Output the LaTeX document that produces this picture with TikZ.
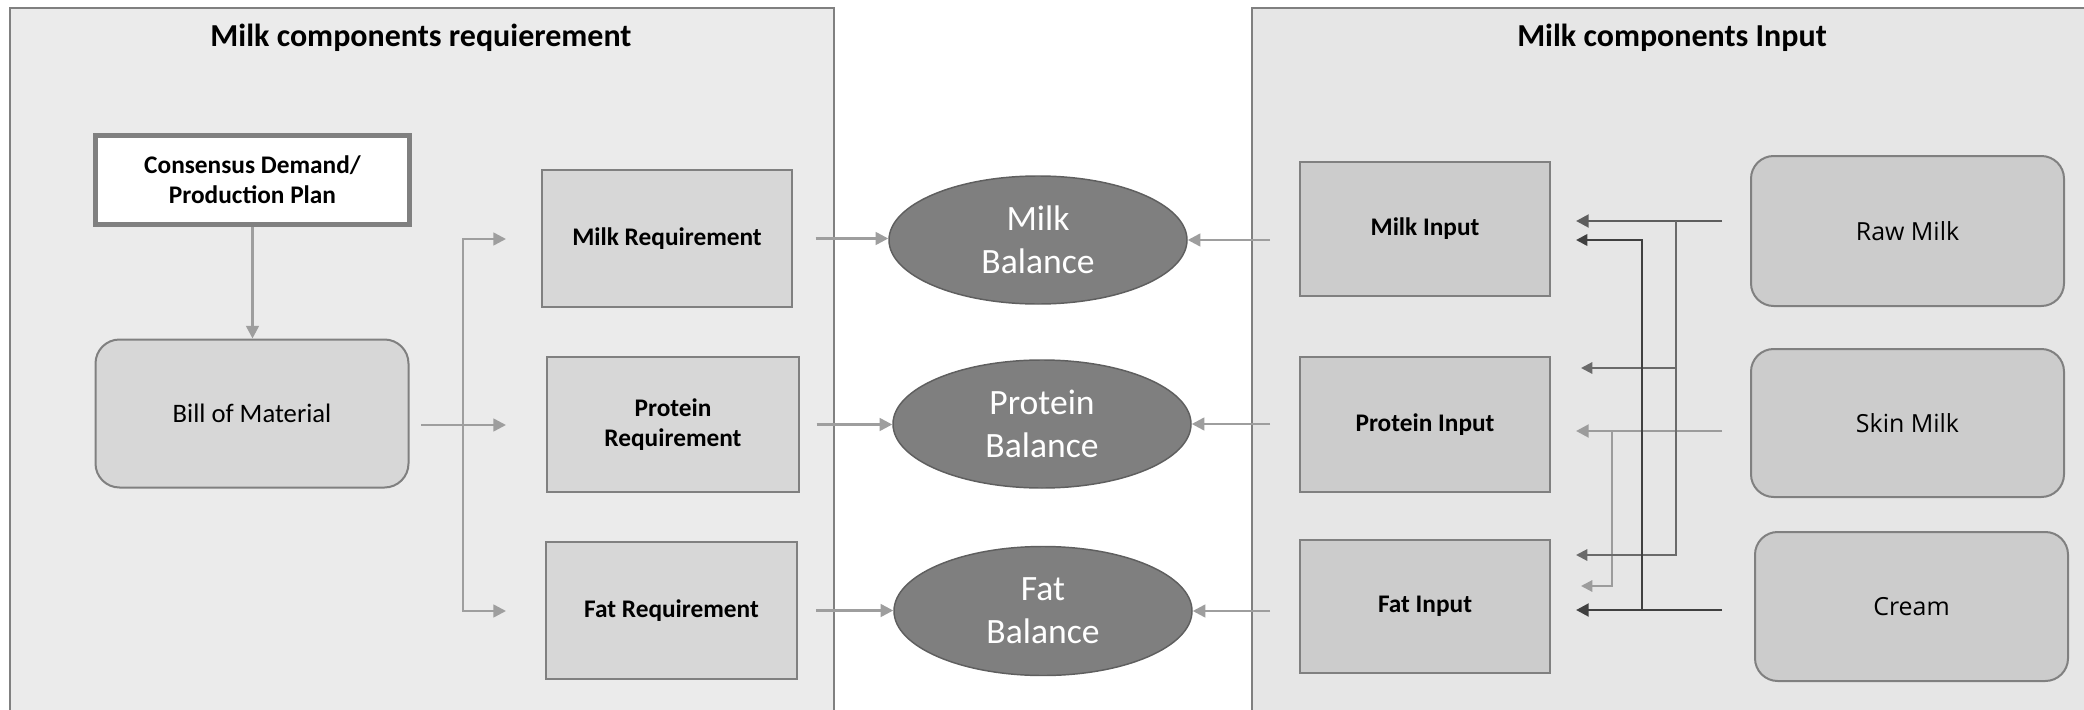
\documentclass[tikz,border=0pt]{standalone}
\usepackage{fontspec}
\setmainfont{Carlito}
\newfontfamily\osans{Open Sans}
\usetikzlibrary{arrows.meta,shapes.geometric}
\definecolor{panelL}{HTML}{EBEBEB}
\definecolor{panelR}{HTML}{E6E6E6}
\definecolor{bordgray}{HTML}{808080}
\definecolor{reqfill}{HTML}{D7D7D7}
\definecolor{infill}{HTML}{CCCCCC}
\definecolor{ellfill}{HTML}{7F7F7F}
\definecolor{elldraw}{HTML}{5F5F5F}
\definecolor{arrL}{HTML}{9E9E9E}
\definecolor{rawc}{HTML}{5E5E5E}
\definecolor{rawb}{HTML}{6A6A6A}
\definecolor{creamc}{HTML}{404040}
\definecolor{skinc}{HTML}{9C9C9C}
\tikzset{
  panel/.style={draw=bordgray, line width=1.1pt},
  ptitle/.style={font=\fontsize{24}{29}\selectfont\bfseries, inner sep=0pt, anchor=base},
  reqbox/.style={draw=bordgray, fill=reqfill, line width=1.5pt, inner sep=0pt, align=center,
    font=\fontsize{19}{22.5}\selectfont\bfseries},
  inbox/.style={reqbox, fill=infill},
  srcbox/.style={draw=bordgray, fill=infill, line width=1.5pt, inner sep=0pt, align=center,
    rounded corners=17pt, font=\osans\fontsize{18.7}{22}\selectfont},
  balance/.style={ellipse, draw=elldraw, fill=ellfill, line width=1.1pt, inner sep=0pt,
    align=center, text=white, minimum width=223.5pt, minimum height=96pt,
    font=\fontsize{26.7}{32}\selectfont},
  conn/.style={draw=arrL, line width=1.9pt},
  arr/.style={conn, -{Triangle[length=9.5pt,width=9.5pt]}},
  rarr/.style={line width=2.2pt, -{Triangle[length=9.5pt,width=9.5pt]}},
  rarrthin/.style={line width=1.6pt, -{Triangle[length=8.5pt,width=8.5pt]}},
}
\begin{document}
\begin{tikzpicture}[x=0.75pt,y=-0.75pt]
\useasboundingbox (0,0) rectangle (2084,710);
\fill[white] (0,0) rectangle (2084,710);
% panels
\draw[panel, fill=panelL] (10,8) rectangle (834,740);
\draw[panel, fill=panelR] (1252,8) rectangle (2110,740);
\node[ptitle] (titleL) at (421,47) {Milk components requierement};
\node[ptitle] (titleR) at (1672,47) {Milk components Input};

% left side
\node[draw=bordgray, fill=white, line width=3.75pt, inner sep=0pt, align=center,
  minimum width=235.5pt, minimum height=66.75pt,
  font=\fontsize{19}{22.5}\selectfont\bfseries] (cons) at (252.5,180) {Consensus Demand/\\Production Plan};
\node[draw=bordgray, fill=reqfill, line width=1.5pt, inner sep=0pt, rounded corners=18pt,
  minimum width=234.75pt, minimum height=111pt,
  font=\fontsize{20}{24}\selectfont] (bom) at (252,413.5) {Bill of Material};

\node[reqbox, minimum width=187.5pt, minimum height=102.75pt] (milkreq) at (667,238.5) {Milk Requirement};
\node[reqbox, minimum width=189pt, minimum height=101.25pt] (protreq) at (673,424.5) {Protein\\Requirement};
\node[reqbox, minimum width=188.25pt, minimum height=102.75pt] (fatreq) at (671.5,610.5) {Fat Requirement};

% balances
\node[balance] (milkbal) at (1038,240) {Milk\\Balance};
\node[balance] (protbal) at (1042,424) {Protein\\Balance};
\node[balance, minimum height=96.75pt] (fatbal) at (1043,611) {Fat\\Balance};

% inputs
\node[inbox, minimum width=187.5pt, minimum height=100.5pt] (milkin) at (1425,229) {Milk Input};
\node[inbox, minimum width=187.5pt, minimum height=101.25pt] (protin) at (1425,424.5) {Protein Input};
\node[inbox, minimum width=187.5pt, minimum height=99.75pt] (fatin) at (1425,606.5) {Fat Input};

% sources
\node[srcbox, minimum width=234.75pt, minimum height=112.5pt] (raw) at (1907.5,231) {Raw Milk};
\node[srcbox, minimum width=234.75pt, minimum height=111pt] (skin) at (1907.5,423) {Skin Milk};
\node[srcbox, minimum width=234.75pt, minimum height=111.75pt] (cream) at (1911.5,606.5) {Cream};

% left connectors
\draw[arr] (cons.south) -- (cons.south |- bom.north);
\coordinate (b0) at (421,425);
\coordinate (jt) at (463,239);
\coordinate (jb) at (463,611);
\coordinate (r1) at (506,239);
\coordinate (r2) at (506,425);
\coordinate (r3) at (506,611);
\draw[arr] (jb) -- (jt) -- (r1);
\draw[arr] (jt) -- (jb) -- (r3);
\draw[arr] (b0) -- (r2);

\draw[arr] ([xshift=17pt]milkreq.east) -- (milkreq.east -| milkbal.west);
\draw[arr] ([xshift=12.5pt]protreq.east) -- (protreq.east -| protbal.west);
\draw[arr] ([xshift=13.5pt]fatreq.east) -- (fatreq.east -| fatbal.west);

\draw[arr] ([xshift=-21.75pt]milkin.west |- milkbal.east) -- (milkbal.east);
\draw[arr] ([xshift=-21.75pt]protin.west |- protbal.east) -- (protbal.east);
\draw[arr] ([xshift=-21.75pt]fatin.west |- fatbal.east) -- (fatbal.east);

% right connectors
\coordinate (rawS) at (1722,221);
\coordinate (rawJ) at (1676,221);
\coordinate (rawJ2) at (1676,368);
\coordinate (rawJ3) at (1676,555);
\coordinate (rawT1) at (1576,221);
\coordinate (rawT2) at (1581,368);
\coordinate (rawT3) at (1576,555);

\coordinate (skinS) at (1722,431);
\coordinate (skinJ) at (1612,431);
\coordinate (skinJ2) at (1612,586);
\coordinate (skinT1) at (1576,431);
\coordinate (skinT2) at (1581,586);

\coordinate (creamS) at (1722,610);
\coordinate (creamJ) at (1642,610);
\coordinate (creamJ2) at (1642,240);
\coordinate (creamT1) at (1576,610);
\coordinate (creamT2) at (1576,240);

\draw[rarr, draw=skinc] (skinS) -- (skinT1);
\draw[rarrthin, draw=skinc] (skinJ) -- (skinJ2) -- (skinT2);

\draw[rarr, draw=rawc] (rawS) -- (rawT1);
\draw[rarrthin, draw=rawb] (rawJ) -- (rawJ3) -- (rawT3);
\draw[rarrthin, draw=rawb] (rawJ2) -- (rawT2);

\draw[rarr, draw=creamc] (creamS) -- (creamT1);
\draw[rarrthin, draw=creamc, line width=1.9pt] (creamJ) -- (creamJ2) -- (creamT2);
\end{tikzpicture}
\end{document}
